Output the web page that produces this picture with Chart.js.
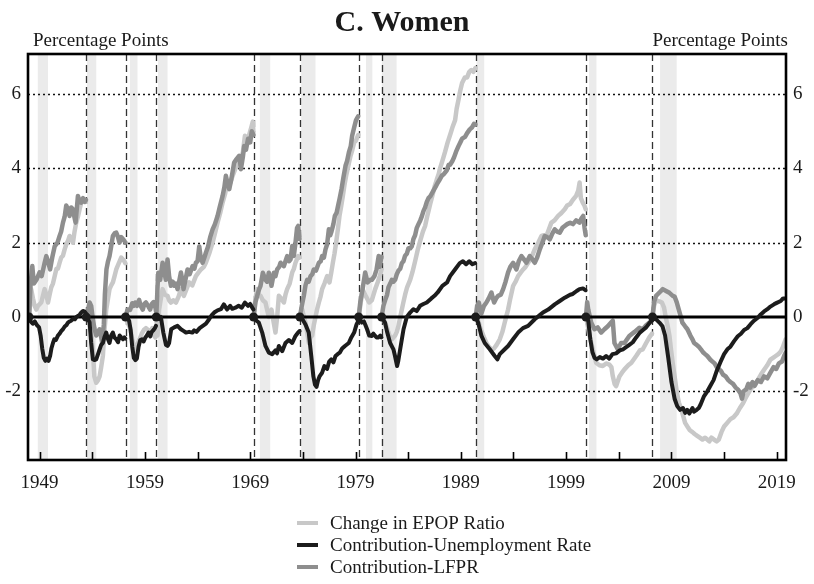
<!DOCTYPE html>
<html><head><meta charset="utf-8">
<script src="https://cdn.jsdelivr.net/npm/chart.js@4.4.1/dist/chart.umd.min.js"></script>
<style>html,body{margin:0;padding:0;background:#fff}#wrap{width:814px;height:584px}</style>
</head><body><div id="wrap"><canvas id="c" width="814" height="584"></canvas></div>
<script>
const TITLE = 'C. Women';
const UNIT_LABEL = 'Percentage Points';
const seriesLabels = ['Change in EPOP Ratio', 'Contribution-Unemployment Rate', 'Contribution-LFPR'];
const yTicks = [-2, 0, 2, 4, 6];
const xLabelYears = [1949, 1959, 1969, 1979, 1989, 1999, 2009, 2019];
const xTickYears = [1949, 1954, 1959, 1964, 1969, 1974, 1979, 1984, 1989, 1994, 1999, 2004, 2009, 2014, 2019];
const cyclePeaks = [1948.0, 1953.43, 1957.16, 1960.08, 1969.32, 1973.72, 1979.3, 1981.48, 1990.41, 2000.88, 2007.2];
const recessions = [[1948.83,1949.8],[1953.5,1954.38],[1957.58,1958.3],[1960.25,1961.15],[1969.92,1970.9],[1973.85,1975.2],[1980.0,1980.6],[1981.5,1982.9],[1990.5,1991.22],[2001.18,2001.88],[2007.92,2009.5]];

// [year, value]; null separates business cycles
const epop = [
[1948.0,0],[1948.2,0.75],[1948.37,0.5],[1948.53,0.3],[1948.69,0.2],[1948.85,0.3],[1949.16,0.39],[1949.3,0.55],[1949.48,0.75],[1949.64,0.6],[1949.8,0.39],[1949.95,0.6],[1950.11,0.8],[1950.27,0.9],[1950.43,1.1],[1950.6,1.3],[1950.74,1.3],[1950.9,1.46],[1951.05,1.6],[1951.22,1.65],[1951.38,1.82],[1951.53,1.95],[1951.7,2.05],[1951.85,2.18],[1952.0,2.1],[1952.17,2.0],[1952.32,2.3],[1952.48,2.54],[1952.64,2.7],[1952.8,2.9],[1952.96,3.08],[1953.12,3.15],[1953.28,3.17],[1953.4,3.1],
null,
[1953.43,0],[1953.6,0.1],[1953.75,0.2],[1953.9,-0.4],[1954.06,-0.87],[1954.2,-1.6],[1954.38,-1.77],[1954.55,-1.7],[1954.7,-1.6],[1954.85,-1.35],[1955.01,-1.05],[1955.15,-0.4],[1955.33,0.2],[1955.5,0.5],[1955.64,0.75],[1955.8,0.85],[1955.96,0.93],[1956.12,1.1],[1956.28,1.28],[1956.45,1.4],[1956.6,1.5],[1956.75,1.6],[1956.91,1.55],[1957.05,1.5],[1957.14,1.45],
null,
[1957.16,0],[1957.35,-0.15],[1957.6,-0.3],[1957.8,-0.6],[1957.95,-0.8],[1958.1,-0.9],[1958.25,-0.75],[1958.5,-0.6],[1958.7,-0.45],[1958.9,-0.35],[1959.1,-0.3],[1959.3,-0.35],[1959.5,-0.4],[1959.7,-0.3],[1959.85,-0.5],[1960.0,-0.55],[1960.06,-0.45],
null,
[1960.08,0],[1960.2,-0.5],[1960.35,0.2],[1960.52,0.5],[1960.68,0.75],[1960.9,0.6],[1961.15,0.57],[1961.3,0.45],[1961.47,0.39],[1961.7,0.45],[1961.95,0.39],[1962.2,0.55],[1962.42,0.75],[1962.7,0.57],[1962.95,0.75],[1963.2,0.93],[1963.5,0.85],[1963.84,1.1],[1964.1,1.2],[1964.32,1.28],[1964.6,1.35],[1964.79,1.46],[1965.1,1.7],[1965.43,2.0],[1965.7,2.3],[1965.9,2.54],[1966.15,2.8],[1966.38,3.08],[1966.6,3.3],[1966.85,3.62],[1967.1,3.6],[1967.33,3.8],[1967.6,4.0],[1967.8,4.16],[1968.1,4.25],[1968.3,4.43],[1968.5,4.88],[1968.7,4.7],[1968.9,4.9],[1969.1,5.1],[1969.25,5.26],[1969.3,5.0],
null,
[1969.32,0],[1969.5,0.5],[1969.66,0.75],[1969.82,0.6],[1969.98,0.57],[1970.2,0.45],[1970.45,0.39],[1970.6,0.2],[1970.77,0.0],[1971.02,0.2],[1971.2,-0.1],[1971.4,-0.42],[1971.56,0.0],[1971.72,0.57],[1971.95,0.5],[1972.2,0.39],[1972.35,0.6],[1972.51,0.75],[1972.75,0.9],[1972.99,1.2],[1973.15,1.3],[1973.3,1.46],[1973.56,1.64],[1973.68,1.6],
null,
[1973.72,0],[1973.94,0.2],[1974.1,0.0],[1974.25,-0.15],[1974.4,-0.4],[1974.57,-0.7],[1974.72,-0.55],[1974.88,-0.5],[1975.05,-0.2],[1975.2,0.0],[1975.35,0.2],[1975.52,0.39],[1975.68,0.55],[1975.83,0.75],[1976.05,0.9],[1976.31,1.1],[1976.53,0.93],[1976.7,1.2],[1976.85,1.46],[1977.0,1.7],[1977.16,2.0],[1977.32,2.35],[1977.48,2.72],[1977.65,3.0],[1977.8,3.26],[1977.95,3.55],[1978.11,3.8],[1978.3,4.05],[1978.53,4.34],[1978.7,4.5],[1978.87,4.7],[1979.05,4.75],[1979.25,4.9],
null,
[1979.3,0],[1979.5,0.39],[1979.67,0.75],[1979.9,0.6],[1980.1,0.5],[1980.3,0.39],[1980.55,0.45],[1980.87,0.75],[1981.1,0.93],[1981.3,1.1],[1981.46,1.27],
null,
[1981.48,0],[1981.65,-0.05],[1981.81,-0.15],[1982.0,-0.3],[1982.13,-0.42],[1982.3,-0.55],[1982.45,-0.6],[1982.6,-0.55],[1982.76,-0.5],[1982.92,-0.4],[1983.08,-0.24],[1983.25,0.0],[1983.4,0.2],[1983.55,0.4],[1983.71,0.6],[1983.9,0.8],[1984.19,1.0],[1984.4,1.2],[1984.66,1.5],[1984.9,1.8],[1985.14,2.05],[1985.4,2.3],[1985.61,2.45],[1985.8,2.7],[1985.93,2.85],[1986.1,3.05],[1986.24,3.2],[1986.5,3.5],[1986.72,3.7],[1986.9,3.85],[1987.03,4.0],[1987.3,4.25],[1987.51,4.45],[1987.75,4.7],[1987.98,4.9],[1988.2,5.1],[1988.46,5.3],[1988.6,5.6],[1988.78,5.85],[1988.95,6.1],[1989.12,6.3],[1989.38,6.45],[1989.6,6.45],[1989.8,6.6],[1990.0,6.65],[1990.2,6.6],[1990.38,6.7],
null,
[1990.41,0],[1990.55,-0.05],[1990.71,-0.15],[1990.85,-0.3],[1991.02,-0.42],[1991.2,-0.55],[1991.43,-0.7],[1991.65,-0.8],[1991.91,-0.87],[1992.15,-0.85],[1992.4,-0.75],[1992.7,-0.6],[1992.95,-0.4],[1993.17,-0.15],[1993.35,0.05],[1993.49,0.2],[1993.7,0.5],[1993.97,0.84],[1994.2,0.95],[1994.44,1.1],[1994.7,1.2],[1994.92,1.28],[1995.15,1.35],[1995.39,1.46],[1995.7,1.6],[1996.02,1.82],[1996.35,2.0],[1996.66,2.18],[1996.9,2.2],[1997.13,2.18],[1997.35,2.35],[1997.6,2.54],[1997.9,2.6],[1998.24,2.72],[1998.55,2.8],[1998.87,2.9],[1999.1,3.0],[1999.38,3.04],[1999.63,3.15],[1999.95,3.26],[2000.15,3.4],[2000.28,3.62],[2000.4,3.2],[2000.58,3.08],[2000.74,3.0],[2000.86,2.9],
null,
[2000.88,0],[2001.0,-0.15],[2001.22,-0.5],[2001.53,-0.87],[2001.85,-1.23],[2002.16,-1.3],[2002.48,-1.32],[2002.8,-1.25],[2003.11,-1.28],[2003.3,-1.35],[2003.43,-1.59],[2003.6,-1.8],[2003.75,-1.86],[2004.06,-1.6],[2004.3,-1.5],[2004.54,-1.41],[2004.9,-1.3],[2005.2,-1.23],[2005.65,-1.05],[2006.0,-0.9],[2006.28,-0.87],[2006.6,-0.7],[2006.9,-0.55],[2007.15,-0.45],
null,
[2007.2,0],[2007.35,0.3],[2007.54,0.45],[2007.86,0.42],[2008.1,0.39],[2008.3,0.25],[2008.49,-0.05],[2008.65,-0.25],[2008.81,-0.5],[2008.97,-0.9],[2009.13,-1.25],[2009.3,-1.6],[2009.5,-2.0],[2009.7,-2.3],[2009.9,-2.45],[2010.1,-2.65],[2010.3,-2.85],[2010.52,-2.95],[2010.75,-3.05],[2011.0,-3.1],[2011.2,-3.15],[2011.45,-3.2],[2011.7,-3.25],[2011.95,-3.3],[2012.2,-3.25],[2012.41,-3.3],[2012.6,-3.35],[2012.8,-3.25],[2013.05,-3.3],[2013.3,-3.35],[2013.5,-3.3],[2013.75,-3.1],[2014.0,-2.95],[2014.3,-2.85],[2014.6,-2.75],[2014.9,-2.7],[2015.2,-2.6],[2015.5,-2.45],[2015.8,-2.32],[2016.1,-2.15],[2016.4,-2.0],[2016.65,-1.9],[2016.9,-1.85],[2017.2,-1.7],[2017.5,-1.55],[2017.8,-1.42],[2018.1,-1.3],[2018.4,-1.15],[2018.65,-1.1],[2018.9,-1.05],[2019.15,-1.0],[2019.4,-0.92],[2019.6,-0.8],[2019.72,-0.7],[2019.85,-0.6]
];

const unempContrib = [
[1948.0,0],[1948.15,-0.12],[1948.35,-0.18],[1948.55,-0.12],[1948.75,-0.22],[1948.95,-0.28],[1949.1,-0.5],[1949.25,-0.85],[1949.4,-1.1],[1949.55,-1.18],[1949.7,-1.12],[1949.85,-1.18],[1950.0,-1.05],[1950.12,-0.85],[1950.27,-0.7],[1950.4,-0.6],[1950.55,-0.62],[1950.74,-0.5],[1950.9,-0.45],[1951.05,-0.38],[1951.22,-0.33],[1951.4,-0.25],[1951.55,-0.22],[1951.7,-0.15],[1951.85,-0.12],[1952.0,-0.1],[1952.17,-0.05],[1952.35,-0.06],[1952.5,0.0],[1952.65,0.03],[1952.8,0.06],[1952.96,0.12],[1953.12,0.16],[1953.25,0.15],[1953.4,0.1],
null,
[1953.43,0],[1953.6,-0.05],[1953.75,-0.15],[1953.9,-0.7],[1954.06,-1.14],[1954.2,-1.16],[1954.38,-1.14],[1954.55,-1.0],[1954.7,-0.87],[1954.85,-0.75],[1955.01,-0.7],[1955.15,-0.55],[1955.33,-0.42],[1955.5,-0.6],[1955.64,-0.7],[1955.8,-0.5],[1955.96,-0.42],[1956.1,-0.55],[1956.28,-0.6],[1956.45,-0.68],[1956.6,-0.5],[1956.75,-0.55],[1956.91,-0.6],[1957.05,-0.55],[1957.14,-0.58],
null,
[1957.16,0],[1957.35,-0.03],[1957.5,-0.1],[1957.65,-0.35],[1957.8,-0.8],[1957.95,-1.1],[1958.1,-1.16],[1958.24,-1.12],[1958.4,-0.8],[1958.56,-0.62],[1958.72,-0.6],[1958.88,-0.66],[1959.05,-0.55],[1959.19,-0.5],[1959.35,-0.42],[1959.51,-0.52],[1959.65,-0.4],[1959.82,-0.35],[1959.95,-0.3],[1960.05,-0.24],
null,
[1960.08,0],[1960.3,-0.05],[1960.52,0.0],[1960.75,-0.42],[1961.0,-0.75],[1961.15,-0.78],[1961.3,-0.7],[1961.5,-0.33],[1961.78,-0.28],[1962.1,-0.24],[1962.42,-0.33],[1962.7,-0.38],[1962.9,-0.42],[1963.2,-0.4],[1963.5,-0.42],[1963.68,-0.36],[1963.9,-0.4],[1964.2,-0.3],[1964.5,-0.24],[1964.8,-0.18],[1965.1,-0.06],[1965.35,0.05],[1965.58,0.12],[1965.9,0.18],[1966.22,0.21],[1966.5,0.34],[1966.8,0.2],[1967.1,0.3],[1967.3,0.22],[1967.6,0.25],[1967.9,0.3],[1968.2,0.25],[1968.5,0.39],[1968.8,0.3],[1969.0,0.35],[1969.2,0.25],[1969.3,0.2],
null,
[1969.32,0],[1969.6,-0.1],[1969.82,-0.15],[1970.14,-0.42],[1970.45,-0.78],[1970.77,-0.96],[1971.09,-1.0],[1971.4,-0.9],[1971.55,-0.98],[1971.72,-0.78],[1972.04,-0.92],[1972.35,-0.7],[1972.67,-0.62],[1972.99,-0.7],[1973.3,-0.51],[1973.55,-0.42],[1973.68,-0.38],
null,
[1973.72,0],[1974.0,-0.08],[1974.25,-0.2],[1974.56,-0.42],[1974.8,-1.05],[1975.0,-1.6],[1975.15,-1.82],[1975.3,-1.88],[1975.45,-1.7],[1975.6,-1.59],[1975.83,-1.5],[1976.05,-1.32],[1976.3,-1.4],[1976.5,-1.2],[1976.7,-1.14],[1976.9,-1.22],[1977.1,-1.05],[1977.3,-1.0],[1977.5,-0.96],[1977.73,-0.85],[1978.0,-0.78],[1978.36,-0.7],[1978.6,-0.55],[1978.87,-0.42],[1979.1,-0.2],[1979.28,-0.1],
null,
[1979.3,0],[1979.45,-0.08],[1979.6,-0.15],[1979.8,-0.12],[1979.92,-0.2],[1980.1,-0.33],[1980.3,-0.5],[1980.55,-0.51],[1980.7,-0.45],[1980.87,-0.51],[1981.0,-0.55],[1981.18,-0.55],[1981.35,-0.5],[1981.46,-0.55],
null,
[1981.48,0],[1981.8,-0.15],[1982.0,-0.4],[1982.29,-0.7],[1982.6,-0.87],[1982.75,-1.05],[1982.95,-1.32],[1983.05,-1.2],[1983.24,-0.87],[1983.56,-0.33],[1983.87,0],[1984.19,0.12],[1984.5,0.21],[1984.82,0.16],[1985.13,0.3],[1985.45,0.35],[1985.77,0.39],[1986.2,0.5],[1986.5,0.57],[1986.8,0.66],[1987.25,0.84],[1987.7,0.93],[1987.98,1.1],[1988.45,1.28],[1988.9,1.45],[1989.2,1.5],[1989.5,1.42],[1989.8,1.5],[1990.1,1.42],[1990.35,1.45],
null,
[1990.41,0],[1990.65,-0.15],[1990.96,-0.51],[1991.27,-0.7],[1991.75,-0.87],[1992.22,-1.05],[1992.47,-1.14],[1992.7,-1.0],[1993.17,-0.87],[1993.49,-0.78],[1993.96,-0.6],[1994.44,-0.42],[1994.9,-0.3],[1995.39,-0.24],[1996.02,-0.06],[1996.5,0.05],[1996.8,0.12],[1997.3,0.2],[1997.92,0.34],[1998.4,0.43],[1998.87,0.52],[1999.38,0.6],[1999.63,0.62],[2000.0,0.7],[2000.27,0.75],[2000.6,0.77],[2000.84,0.72],
null,
[2000.88,0],[2001.1,-0.1],[2001.3,-0.6],[2001.5,-0.95],[2001.7,-1.1],[2001.9,-1.14],[2002.2,-1.08],[2002.5,-1.12],[2002.8,-1.05],[2003.1,-1.12],[2003.4,-1.0],[2003.75,-0.98],[2004.1,-0.9],[2004.4,-0.87],[2004.76,-0.8],[2005.0,-0.75],[2005.33,-0.68],[2005.65,-0.55],[2006.0,-0.42],[2006.3,-0.35],[2006.6,-0.28],[2006.95,-0.15],[2007.15,-0.1],
null,
[2007.2,0],[2007.5,-0.05],[2007.86,-0.15],[2008.15,-0.25],[2008.4,-0.5],[2008.7,-1.1],[2009.0,-1.75],[2009.3,-2.2],[2009.55,-2.4],[2009.82,-2.5],[2010.1,-2.45],[2010.3,-2.58],[2010.5,-2.5],[2010.7,-2.6],[2011.0,-2.45],[2011.15,-2.55],[2011.4,-2.5],[2011.6,-2.45],[2011.78,-2.35],[2012.1,-2.13],[2012.41,-2.0],[2012.7,-1.85],[2013.0,-1.7],[2013.3,-1.45],[2013.68,-1.2],[2014.0,-1.0],[2014.31,-0.87],[2014.6,-0.8],[2014.95,-0.65],[2015.3,-0.52],[2015.6,-0.45],[2015.9,-0.35],[2016.21,-0.3],[2016.5,-0.2],[2016.84,-0.1],[2017.2,-0.02],[2017.48,0.07],[2017.8,0.15],[2018.11,0.21],[2018.4,0.28],[2018.74,0.34],[2019.0,0.38],[2019.38,0.43],[2019.6,0.5],[2019.85,0.5]
];

const lfprContrib = [
[1948.0,0],[1948.15,0.9],[1948.31,1.37],[1948.45,0.9],[1948.53,0.93],[1948.7,1.0],[1949.0,1.2],[1949.2,1.1],[1949.48,1.46],[1949.64,1.64],[1949.79,1.5],[1950.0,1.28],[1950.2,1.6],[1950.43,1.9],[1950.7,2.0],[1950.9,2.18],[1951.05,2.3],[1951.22,2.54],[1951.38,2.7],[1951.53,3.0],[1951.7,2.9],[1951.85,2.72],[1952.0,2.95],[1952.17,2.9],[1952.3,2.7],[1952.42,2.54],[1952.64,3.26],[1952.8,3.1],[1952.96,3.08],[1953.12,3.2],[1953.28,3.1],[1953.4,3.15],
null,
[1953.43,0],[1953.6,0.2],[1953.75,0.39],[1953.9,0.3],[1954.06,-0.06],[1954.2,-0.3],[1954.38,-0.5],[1954.55,-0.4],[1954.7,-0.33],[1954.85,-0.55],[1954.95,-0.7],[1955.1,-0.2],[1955.2,0.6],[1955.35,1.28],[1955.5,1.5],[1955.64,1.64],[1955.8,1.9],[1955.96,2.18],[1956.12,2.25],[1956.28,2.27],[1956.45,2.15],[1956.59,2.0],[1956.75,2.15],[1956.91,2.1],[1957.05,2.05],[1957.14,2.0],
null,
[1957.16,0],[1957.35,0.2],[1957.6,0.19],[1957.8,0.37],[1957.95,0.3],[1958.1,0.39],[1958.25,0.3],[1958.45,0.46],[1958.6,0.3],[1958.8,0.2],[1958.95,0.35],[1959.1,0.39],[1959.3,0.3],[1959.5,0.2],[1959.65,0.35],[1959.82,0.4],[1960.0,0.25],[1960.06,0.15],
null,
[1960.08,0],[1960.2,0.8],[1960.27,1.19],[1960.45,1.0],[1960.68,1.46],[1960.85,1.2],[1960.99,1.0],[1961.15,1.55],[1961.3,1.1],[1961.47,0.84],[1961.65,0.95],[1961.79,0.84],[1961.95,0.9],[1962.1,0.75],[1962.25,0.95],[1962.42,1.2],[1962.55,1.0],[1962.67,0.75],[1962.85,1.0],[1963.05,1.28],[1963.25,1.15],[1963.53,1.37],[1963.7,1.3],[1963.84,1.46],[1964.0,1.5],[1964.16,1.9],[1964.3,1.6],[1964.48,1.46],[1964.65,1.6],[1964.79,1.73],[1965.0,1.9],[1965.2,2.15],[1965.43,2.36],[1965.65,2.5],[1965.9,2.72],[1966.1,2.95],[1966.38,3.26],[1966.55,3.5],[1966.69,3.8],[1966.85,3.6],[1967.01,3.44],[1967.2,3.7],[1967.48,4.16],[1967.7,4.25],[1967.96,4.34],[1968.12,3.98],[1968.3,4.3],[1968.43,4.6],[1968.6,4.5],[1968.8,4.8],[1969.0,4.7],[1969.15,5.0],[1969.3,4.9],
null,
[1969.32,0],[1969.5,0.4],[1969.66,0.57],[1969.85,0.75],[1969.98,0.84],[1970.2,1.19],[1970.45,1.0],[1970.6,0.95],[1970.77,1.19],[1971.02,0.84],[1971.25,1.19],[1971.4,1.1],[1971.56,1.28],[1971.75,1.35],[1971.88,1.46],[1972.05,1.4],[1972.2,1.37],[1972.35,1.5],[1972.51,1.64],[1972.7,1.5],[1972.83,1.55],[1972.99,1.91],[1973.14,1.64],[1973.3,2.0],[1973.45,2.4],[1973.56,2.45],[1973.68,2.1],
null,
[1973.72,0],[1973.9,0.3],[1974.09,0.57],[1974.25,0.85],[1974.41,1.0],[1974.55,0.95],[1974.73,1.1],[1974.9,1.15],[1975.04,1.28],[1975.25,1.25],[1975.52,1.46],[1975.7,1.5],[1975.83,1.64],[1976.0,1.6],[1976.15,1.82],[1976.3,1.95],[1976.47,2.36],[1976.6,2.2],[1976.72,2.3],[1976.9,2.5],[1977.04,2.72],[1977.2,2.8],[1977.35,3.0],[1977.5,3.2],[1977.67,3.44],[1977.85,3.75],[1978.05,4.07],[1978.2,4.2],[1978.37,4.43],[1978.55,4.6],[1978.68,4.88],[1978.87,5.1],[1979.05,5.3],[1979.25,5.4],
null,
[1979.3,0],[1979.45,0.39],[1979.67,0.75],[1979.92,1.2],[1980.15,0.93],[1980.4,1.0],[1980.55,1.0],[1980.8,1.1],[1981.0,1.28],[1981.2,1.64],[1981.3,1.35],[1981.46,1.62],
null,
[1981.48,0],[1981.65,0.3],[1981.81,0.45],[1982.0,0.6],[1982.13,0.8],[1982.3,0.9],[1982.45,1.0],[1982.6,0.95],[1982.76,1.0],[1982.92,1.15],[1983.08,1.25],[1983.25,1.3],[1983.4,1.45],[1983.55,1.5],[1983.71,1.65],[1983.87,1.7],[1984.03,1.85],[1984.2,1.85],[1984.34,1.9],[1984.5,2.1],[1984.66,2.2],[1984.82,2.4],[1984.98,2.5],[1985.15,2.6],[1985.29,2.7],[1985.45,2.85],[1985.61,2.95],[1985.77,3.1],[1985.93,3.2],[1986.1,3.25],[1986.4,3.4],[1986.6,3.5],[1986.78,3.6],[1987.0,3.7],[1987.19,3.8],[1987.4,3.85],[1987.67,3.95],[1987.85,4.1],[1987.98,4.1],[1988.2,4.2],[1988.36,4.3],[1988.55,4.45],[1988.78,4.6],[1988.95,4.7],[1989.12,4.8],[1989.4,4.85],[1989.6,4.95],[1989.85,5.05],[1990.05,5.1],[1990.25,5.2],[1990.38,5.18],
null,
[1990.41,0],[1990.55,0.3],[1990.71,0.39],[1990.85,0.2],[1990.96,0.1],[1991.2,0.3],[1991.43,0.39],[1991.65,0.5],[1991.91,0.66],[1992.05,0.5],[1992.16,0.39],[1992.35,0.5],[1992.54,0.57],[1992.8,0.6],[1993.02,0.75],[1993.25,0.95],[1993.49,1.2],[1993.7,1.35],[1993.97,1.46],[1994.1,1.38],[1994.28,1.28],[1994.5,1.5],[1994.76,1.64],[1995.0,1.55],[1995.23,1.46],[1995.55,1.64],[1995.8,1.55],[1996.02,1.46],[1996.25,1.6],[1996.5,1.82],[1996.75,2.0],[1996.97,2.18],[1997.2,2.15],[1997.45,2.09],[1997.7,2.25],[1997.92,2.36],[1998.15,2.3],[1998.4,2.27],[1998.65,2.4],[1998.87,2.45],[1999.1,2.5],[1999.38,2.54],[1999.65,2.5],[1999.95,2.6],[2000.27,2.54],[2000.45,2.65],[2000.62,2.72],[2000.75,2.4],[2000.86,2.2],
null,
[2000.88,0],[2001.0,0.4],[2001.1,0.2],[2001.38,-0.15],[2001.69,-0.33],[2002.0,-0.28],[2002.32,-0.42],[2002.64,-0.33],[2002.96,-0.25],[2003.27,-0.15],[2003.43,-0.1],[2003.59,-0.7],[2003.9,-0.87],[2004.22,-0.7],[2004.54,-0.7],[2005.0,-0.51],[2005.5,-0.4],[2005.96,-0.29],[2006.28,-0.33],[2006.6,-0.22],[2006.91,-0.15],[2007.1,-0.1],[2007.18,-0.05],
null,
[2007.2,0],[2007.35,0.4],[2007.54,0.57],[2007.86,0.66],[2008.18,0.75],[2008.49,0.7],[2008.81,0.65],[2009.13,0.57],[2009.3,0.55],[2009.5,0.4],[2009.7,0.2],[2010.04,-0.15],[2010.3,-0.25],[2010.52,-0.33],[2010.8,-0.5],[2011.0,-0.6],[2011.15,-0.7],[2011.4,-0.75],[2011.6,-0.8],[2011.8,-0.87],[2012.0,-0.95],[2012.2,-1.0],[2012.41,-1.05],[2012.7,-1.15],[2012.9,-1.2],[2013.1,-1.25],[2013.3,-1.35],[2013.5,-1.4],[2013.7,-1.45],[2013.9,-1.55],[2014.15,-1.6],[2014.4,-1.7],[2014.6,-1.75],[2014.85,-1.8],[2015.1,-1.9],[2015.3,-1.95],[2015.55,-2.05],[2015.7,-2.2],[2015.85,-2.0],[2016.1,-1.95],[2016.3,-1.8],[2016.5,-1.9],[2016.7,-1.75],[2016.9,-1.85],[2017.2,-1.7],[2017.5,-1.75],[2017.8,-1.6],[2018.1,-1.65],[2018.4,-1.5],[2018.7,-1.35],[2018.95,-1.4],[2019.2,-1.25],[2019.5,-1.2],[2019.7,-1.05],[2019.85,-0.96]
];

const SERIF = '"Liberation Serif", "DejaVu Serif", serif';
const X_MIN = 1947.9, X_MAX = 2019.88, Y_MIN = -3.85, Y_MAX = 7.08;

function toPoints(arr) {
  const out = [];
  let last = null;
  arr.forEach(p => {
    if (p === null) { out.push({x: last + 0.001, y: null}); }
    else { out.push({x: p[0], y: p[1]}); last = p[0]; }
  });
  return out;
}
const isCycleStart = pt => pt && pt.y === 0 && cyclePeaks.includes(pt.x);

const colors = {epop: '#c8c8c8', unemp: '#1c1c1c', lfpr: '#8e8e8e'};

const decor = {
  id: 'decor',
  beforeDatasetsDraw(chart) {
    const {ctx, chartArea: a, scales: {x, y}} = chart;
    ctx.save();
    ctx.beginPath(); ctx.rect(a.left, a.top, a.right - a.left, a.bottom - a.top); ctx.clip();
    ctx.fillStyle = '#ebebeb';
    recessions.forEach(([s, e]) => {
      const x0 = x.getPixelForValue(s), x1 = x.getPixelForValue(e);
      ctx.fillRect(x0, a.top, x1 - x0, a.bottom - a.top);
    });
    ctx.strokeStyle = '#111'; ctx.lineWidth = 1.3; ctx.setLineDash([2, 3]);
    yTicks.filter(v => v !== 0).forEach(v => {
      const py = Math.round(y.getPixelForValue(v)) + 0.5;
      ctx.beginPath(); ctx.moveTo(a.left, py); ctx.lineTo(a.right, py); ctx.stroke();
    });
    ctx.strokeStyle = '#333'; ctx.lineWidth = 1.3; ctx.setLineDash([7, 4]);
    cyclePeaks.forEach(v => {
      if (v <= X_MIN + 0.3) return;
      const px = Math.round(x.getPixelForValue(v)) + 0.5;
      ctx.beginPath(); ctx.moveTo(px, a.top); ctx.lineTo(px, a.bottom); ctx.stroke();
    });
    ctx.restore();
  },
  afterDatasetDraw(chart, args) {
    if (args.index !== 1) return;
    const {ctx, chartArea: a, scales: {y}} = chart;
    const py = y.getPixelForValue(0);
    ctx.save();
    ctx.strokeStyle = '#000'; ctx.lineWidth = 3.2;
    ctx.beginPath(); ctx.moveTo(a.left, py); ctx.lineTo(a.right, py); ctx.stroke();
    ctx.restore();
  },
  afterDraw(chart) {
    const {ctx, chartArea: a, scales: {x}} = chart;
    ctx.save();
    ctx.strokeStyle = '#000'; ctx.lineWidth = 1.6;
    xTickYears.forEach(v => {
      const px = Math.round(x.getPixelForValue(v)) + 0.5;
      ctx.beginPath(); ctx.moveTo(px, a.bottom); ctx.lineTo(px, a.bottom - 8); ctx.stroke();
    });
    ctx.lineWidth = 2.6;
    ctx.strokeRect(a.left, a.top, a.right - a.left, a.bottom - a.top);
    ctx.fillStyle = '#1a1a1a';
    ctx.font = 'bold 30px ' + SERIF;
    ctx.textAlign = 'center'; ctx.textBaseline = 'alphabetic';
    ctx.fillText(TITLE, 402, 31);
    ctx.font = '19px ' + SERIF;
    ctx.textAlign = 'left';
    ctx.fillText(UNIT_LABEL, 33, 46);
    ctx.textAlign = 'right';
    ctx.fillText(UNIT_LABEL, 788, 46);
    const legendColors = [colors.epop, colors.unemp, colors.lfpr];
    ctx.textAlign = 'left'; ctx.textBaseline = 'middle';
    seriesLabels.forEach((lab, i) => {
      const cy = 523 + i * 22;
      ctx.strokeStyle = legendColors[i]; ctx.lineWidth = 4;
      ctx.beginPath(); ctx.moveTo(297, cy); ctx.lineTo(318, cy); ctx.stroke();
      ctx.fillStyle = '#1a1a1a';
      ctx.fillText(lab, 330, cy + 1);
    });
    ctx.restore();
  }
};

const yAxisBase = (pos) => ({
  type: 'linear', position: pos, min: Y_MIN, max: Y_MAX,
  grid: {display: false, drawTicks: false, tickLength: 0}, border: {display: false},
  afterBuildTicks: s => { s.ticks = yTicks.map(v => ({value: v})); },
  afterFit: s => { s.width = 28; },
  ticks: {padding: 7, color: '#1a1a1a', font: {family: SERIF, size: 19},
    callback: v => (v < 0 ? '-' + Math.abs(v) : String(v))}
});

new Chart(document.getElementById('c'), {
  type: 'line',
  data: {
    datasets: [
      {label: seriesLabels[1], data: toPoints(unempContrib), borderColor: colors.unemp, backgroundColor: colors.unemp,
        borderWidth: 4, pointRadius: c => isCycleStart(c.raw) ? 4.5 : 0, pointBorderWidth: 0, pointBackgroundColor: colors.unemp},
      {label: seriesLabels[2], data: toPoints(lfprContrib), borderColor: colors.lfpr, borderWidth: 4.5, pointRadius: 0},
      {label: seriesLabels[0], data: toPoints(epop), borderColor: colors.epop, borderWidth: 4.5, pointRadius: 0}
    ]
  },
  options: {
    responsive: false, animation: false, devicePixelRatio: 1,
    layout: {padding: {top: 54, left: 0, right: 0, bottom: 0}},
    datasets: {line: {spanGaps: false, tension: 0, borderJoinStyle: 'round', borderCapStyle: 'round', fill: false}},
    plugins: {legend: {display: false}, title: {display: false}, tooltip: {enabled: false}},
    scales: {
      x: {type: 'linear', min: X_MIN, max: X_MAX,
        grid: {display: false, drawTicks: false, tickLength: 0}, border: {display: false},
        afterBuildTicks: s => { s.ticks = xLabelYears.map(v => ({value: v})); },
        afterFit: s => { s.height = 124; },
        ticks: {padding: 12, autoSkip: false, maxRotation: 0, color: '#1a1a1a', font: {family: SERIF, size: 19},
          callback: v => String(v)}},
      y: yAxisBase('left'),
      y2: yAxisBase('right')
    }
  },
  plugins: [decor]
});
</script>
</body></html>
